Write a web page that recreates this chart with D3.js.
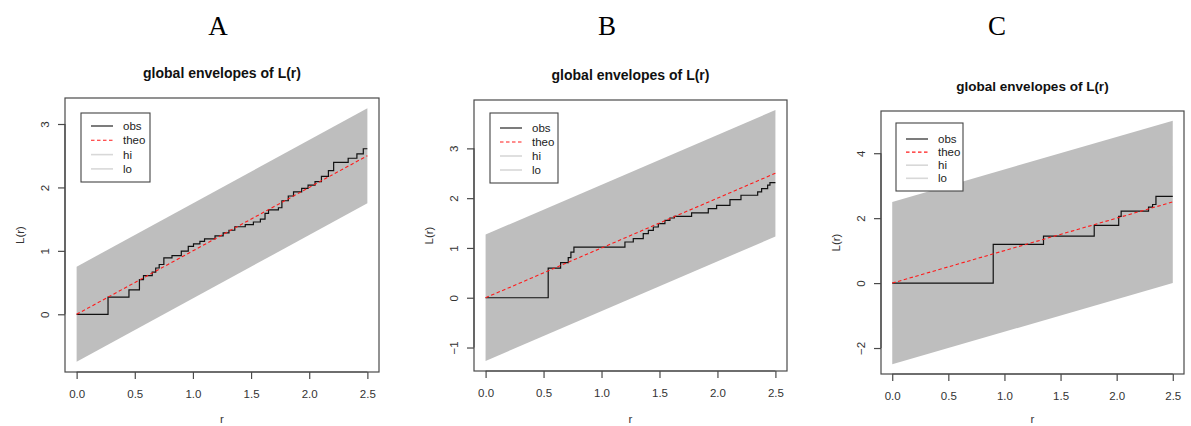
<!DOCTYPE html>
<html>
<head>
<meta charset="utf-8">
<script src="https://cdn.jsdelivr.net/npm/d3@7"></script>
<style>
  body { margin: 0; background: #fff; }
  svg { display: block; }
</style>
</head>
<body>
<svg id="chart" width="1191" height="426"></svg>
<script>
// ---- shared values ----
const rTicks = [0, 0.5, 1, 1.5, 2, 2.5];
const rTickLabels = ["0.0", "0.5", "1.0", "1.5", "2.0", "2.5"];
const envR = [0, 2.5];          // r at the ends of the envelope band
const theoL = [0, 2.5];         // theoretical L(r) = r at those ends
const legendLabels = ["obs", "theo", "hi", "lo"];
const panelLetters = ["A", "B", "C"];

// ---- panel A ----
const hiA = [0.75, 3.25];
const loA = [-0.75, 1.75];
const obsA_r = [0, 0.27, 0.45, 0.54, 0.575, 0.65, 0.68, 0.71, 0.75, 0.82, 0.90, 0.96, 1.005, 1.06, 1.10, 1.19, 1.26, 1.31, 1.36, 1.45, 1.52, 1.58, 1.62, 1.65, 1.735, 1.765, 1.82, 1.865, 1.935, 1.99, 2.05, 2.105, 2.165, 2.21, 2.335, 2.41, 2.465];
const obsA_L = [0, 0.27, 0.385, 0.545, 0.61, 0.665, 0.73, 0.785, 0.89, 0.925, 0.995, 1.07, 1.11, 1.15, 1.19, 1.235, 1.285, 1.325, 1.38, 1.415, 1.455, 1.5, 1.59, 1.645, 1.68, 1.79, 1.865, 1.93, 1.985, 2.035, 2.09, 2.175, 2.265, 2.395, 2.46, 2.53, 2.61];
const yTicksA = [0, 1, 2, 3];

// ---- panel B ----
const hiB = [1.27, 3.77];
const loB = [-1.27, 1.23];
const obsB_r = [0, 0.54, 0.647, 0.713, 0.736, 0.762, 1.202, 1.274, 1.36, 1.404, 1.447, 1.49, 1.547, 1.59, 1.628, 1.777, 1.921, 1.993, 2.108, 2.203, 2.347, 2.381, 2.433, 2.453];
const obsB_L = [0, 0.596, 0.704, 0.805, 0.918, 1.018, 1.119, 1.187, 1.288, 1.354, 1.421, 1.489, 1.555, 1.602, 1.636, 1.703, 1.79, 1.857, 1.972, 2.058, 2.125, 2.193, 2.26, 2.313];
const yTicksB = [-1, 0, 1, 2, 3];

// ---- panel C ----
const hiC = [2.5, 5.0];
const loC = [-2.5, 0.0];
const obsC_r = [0, 0.9, 1.348, 1.8, 2.018, 2.04, 2.284, 2.32, 2.35];
const obsC_L = [0, 1.19, 1.447, 1.775, 2.052, 2.215, 2.338, 2.42, 2.668];
const yTicksC = [-2, 0, 2, 4];

// ---- layout (pixel boxes of each plot region and its legend) ----
const layouts = [
  { box: [65, 98, 379, 372], letterX: 218, titleSize: 14,
    legend: { dx: 16, dy: 15, w: 69, h: 69, row0: 13, rowH: 14.3 } },
  { box: [474, 100, 787, 371], letterX: 607, titleSize: 14,
    legend: { dx: 16, dy: 13, w: 68, h: 70, row0: 15, rowH: 14 } },
  { box: [881, 111, 1184, 374], letterX: 997, titleSize: 13.5,
    legend: { dx: 15, dy: 12, w: 67, h: 68, row0: 16, rowH: 13.1 } }
];

const panels = [
  { hi: hiA, lo: loA, obsR: obsA_r, obsL: obsA_L, yTicks: yTicksA },
  { hi: hiB, lo: loB, obsR: obsB_r, obsL: obsB_L, yTicks: yTicksB },
  { hi: hiC, lo: loC, obsR: obsC_r, obsL: obsC_L, yTicks: yTicksC }
];

const svg = d3.select("#chart");
const sans = "'Liberation Sans', Arial, Helvetica, sans-serif";
const axisCol = "#4a4a4a";
const textCol = "#333";

// R-style axis range: data extent widened by 4% on each side
function extendRange(lo, hi) {
  const pad = (hi - lo) * 0.04;
  return [lo - pad, hi + pad];
}

panels.forEach((p, i) => {
  const L = layouts[i];
  const [x0, y0, x1, y1] = L.box;

  const x = d3.scaleLinear().domain(extendRange(envR[0], envR[1])).range([x0, x1]);
  const yMin = Math.min(d3.min(p.lo), d3.min(p.obsL), d3.min(theoL));
  const yMax = Math.max(d3.max(p.hi), d3.max(p.obsL), d3.max(theoL));
  const y = d3.scaleLinear().domain(extendRange(yMin, yMax)).range([y1, y0]);

  const g = svg.append("g");

  // panel letter
  svg.append("text")
    .attr("x", L.letterX).attr("y", 35)
    .attr("text-anchor", "middle")
    .attr("font-family", "'Liberation Serif', 'Times New Roman', serif")
    .attr("font-size", 27)
    .attr("fill", "#000")
    .text(panelLetters[i]);

  // title
  g.append("text")
    .attr("x", (x0 + x1) / 2).attr("y", y0 - 20)
    .attr("text-anchor", "middle")
    .attr("font-family", sans)
    .attr("font-weight", "bold")
    .attr("font-size", L.titleSize)
    .attr("fill", "#111")
    .text("global envelopes of L(r)");

  const clipId = "clip" + i;
  svg.append("clipPath").attr("id", clipId)
    .append("rect").attr("x", x0).attr("y", y0).attr("width", x1 - x0).attr("height", y1 - y0);

  const plot = g.append("g").attr("clip-path", `url(#${clipId})`);

  // envelope band between lo and hi
  const band = envR.map((r, k) => ({ r, hi: p.hi[k], lo: p.lo[k] }));
  plot.append("path")
    .datum(band)
    .attr("fill", "#bebebe")
    .attr("d", d3.area().x(d => x(d.r)).y0(d => y(d.lo)).y1(d => y(d.hi)));

  // observed step function
  const obs = p.obsR.map((r, k) => [r, p.obsL[k]]);
  obs.push([envR[1], p.obsL[p.obsL.length - 1]]);
  plot.append("path")
    .datum(obs)
    .attr("fill", "none")
    .attr("stroke", "#111")
    .attr("stroke-width", 1.2)
    .attr("d", d3.line().x(d => x(d[0])).y(d => y(d[1])).curve(d3.curveStepAfter));

  // theoretical line
  const theo = envR.map((r, k) => [r, theoL[k]]);
  plot.append("path")
    .datum(theo)
    .attr("fill", "none")
    .attr("stroke", "#ff1a1a")
    .attr("stroke-width", 1.1)
    .attr("stroke-dasharray", "3.5,2.5")
    .attr("d", d3.line().x(d => x(d[0])).y(d => y(d[1])));

  // frame
  g.append("rect")
    .attr("x", x0).attr("y", y0).attr("width", x1 - x0).attr("height", y1 - y0)
    .attr("fill", "none").attr("stroke", axisCol).attr("stroke-width", 1.2);

  // x axis
  const xa = g.append("g").attr("transform", `translate(0,${y1})`)
    .call(d3.axisBottom(x).tickValues(rTicks)
      .tickFormat((d, k) => rTickLabels[k]).tickSize(7).tickSizeOuter(0));
  xa.select(".domain").remove();
  xa.append("line")
    .attr("x1", x(rTicks[0])).attr("x2", x(rTicks[rTicks.length - 1]))
    .attr("stroke", axisCol).attr("stroke-width", 1.2);
  xa.selectAll(".tick line").attr("stroke", axisCol).attr("stroke-width", 1.2);
  xa.selectAll(".tick text")
    .attr("y", 22).attr("dy", "0.35em")
    .attr("font-family", sans).attr("font-size", 11.5).attr("fill", textCol);

  // y axis (labels parallel to the axis)
  const ya = g.append("g").attr("transform", `translate(${x0},0)`)
    .call(d3.axisLeft(y).tickValues(p.yTicks).tickFormat(d3.format("d")).tickSize(7).tickSizeOuter(0));
  ya.select(".domain").remove();
  ya.append("line")
    .attr("y1", y(p.yTicks[0])).attr("y2", y(p.yTicks[p.yTicks.length - 1]))
    .attr("stroke", axisCol).attr("stroke-width", 1.2);
  ya.selectAll(".tick line").attr("stroke", axisCol).attr("stroke-width", 1.2);
  ya.selectAll(".tick text")
    .attr("x", 0).attr("y", -20).attr("dy", "0.35em")
    .attr("transform", "rotate(-90)")
    .attr("text-anchor", "middle")
    .attr("font-family", sans).attr("font-size", 11.5).attr("fill", textCol);

  // axis titles
  g.append("text")
    .attr("x", (x0 + x1) / 2).attr("y", 422.5)
    .attr("text-anchor", "middle")
    .attr("font-family", sans).attr("font-size", 11.5).attr("fill", textCol)
    .text("r");
  g.append("text")
    .attr("transform", `translate(${x0 - 45.5},${(y0 + y1) / 2}) rotate(-90)`)
    .attr("dy", "0.35em")
    .attr("text-anchor", "middle")
    .attr("font-family", sans).attr("font-size", 11.5).attr("fill", textCol)
    .text("L(r)");

  // legend
  const lg = L.legend;
  const lx = x0 + lg.dx, ly = y0 + lg.dy;
  const leg = g.append("g");
  leg.append("rect")
    .attr("x", lx).attr("y", ly).attr("width", lg.w).attr("height", lg.h)
    .attr("fill", "#fff").attr("stroke", "#444").attr("stroke-width", 1.1);
  const styles = [
    { stroke: "#111", width: 1.1, dash: null },
    { stroke: "#ff1a1a", width: 1.1, dash: "3.5,2.5" },
    { stroke: "#d8d8d8", width: 1.6, dash: null },
    { stroke: "#d8d8d8", width: 1.6, dash: null }
  ];
  legendLabels.forEach((lab, k) => {
    const cy = ly + lg.row0 + k * lg.rowH;
    leg.append("line")
      .attr("x1", lx + 10).attr("x2", lx + 32)
      .attr("y1", cy).attr("y2", cy)
      .attr("stroke", styles[k].stroke)
      .attr("stroke-width", styles[k].width)
      .attr("stroke-dasharray", styles[k].dash);
    leg.append("text")
      .attr("x", lx + 42).attr("y", cy).attr("dy", "0.35em")
      .attr("font-family", sans).attr("font-size", 11.5).attr("fill", "#222")
      .text(lab);
  });
});
</script>
</body>
</html>
